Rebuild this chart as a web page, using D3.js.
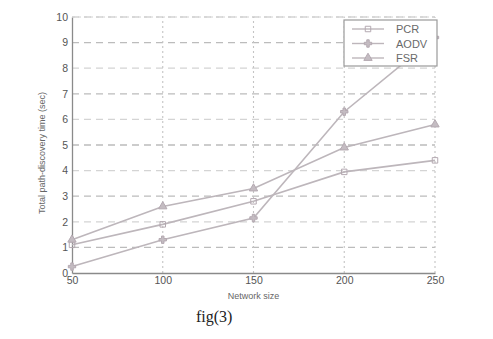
<!DOCTYPE html>
<html>
<head>
<meta charset="utf-8">
<script src="https://cdn.jsdelivr.net/npm/d3@7"></script>
<style>
  body { margin: 0; background: #fff; }
  svg { display: block; }
</style>
</head>
<body>
<div id="chart"></div>
<script>
const networkSize = [50, 100, 150, 200, 250]
const yTicks = [0, 1, 2, 3, 4, 5, 6, 7, 8, 9, 10]
const pcr = [1.1, 1.9, 2.8, 3.95, 4.4]
const aodv = [0.25, 1.3, 2.15, 6.3, 9.2]
const fsr = [1.3, 2.6, 3.3, 4.9, 5.8]
const seriesNames = ['PCR', 'AODV', 'FSR']

const W = 493, H = 339
const m = { left: 72, right: 58, top: 17, bottom: 66 }

const svg = d3.select('#chart').append('svg')
  .attr('width', W)
  .attr('height', H)

const x = d3.scaleLinear().domain([50, 250]).range([m.left, W - m.right])
const y = d3.scaleLinear().domain([0, 10]).range([H - m.bottom, m.top])

const lineColor = '#bdb6bb'
const gridColor = '#c4c4c4'
const axisColor = '#8a8a8a'

// grid
svg.append('g')
  .selectAll('line')
  .data(yTicks.slice(1))
  .join('line')
  .attr('x1', x(50)).attr('x2', x(250))
  .attr('y1', d => y(d)).attr('y2', d => y(d))
  .attr('stroke', d => d % 2 ? '#bcbcbc' : '#d4d4d4')
  .attr('stroke-width', 1.3)
  .attr('stroke-dasharray', '7,5')

svg.append('g')
  .selectAll('line')
  .data(networkSize.slice(1))
  .join('line')
  .attr('x1', d => x(d)).attr('x2', d => x(d))
  .attr('y1', y(0)).attr('y2', y(10))
  .attr('stroke', gridColor)
  .attr('stroke-width', 1.1)
  .attr('stroke-dasharray', '2,3')

// axes
const xAxis = svg.append('g')
  .attr('transform', `translate(0,${y(0)})`)
  .call(d3.axisBottom(x).tickValues(networkSize).tickSize(0).tickPadding(4))
const yAxis = svg.append('g')
  .attr('transform', `translate(${x(50)},0)`)
  .call(d3.axisLeft(y).tickValues(yTicks).tickSize(0).tickPadding(4))

;[xAxis, yAxis].forEach(g => {
  g.select('.domain').attr('stroke', axisColor).attr('stroke-width', 1.3)
  g.selectAll('text')
    .attr('fill', '#555')
    .style('font-family', 'Liberation Sans, Arial, sans-serif')
    .style('font-size', '10.5px')
})

// top line of the box
svg.append('line')
  .attr('x1', x(50)).attr('x2', x(250))
  .attr('y1', y(10)).attr('y2', y(10))
  .attr('stroke', '#d0d0d0')
  .attr('stroke-dasharray', '3,3')

const series = [
  { name: 'PCR', values: pcr, symbol: d3.symbolSquare, size: 30 },
  { name: 'AODV', values: aodv, symbol: d3.symbolCross, size: 30 },
  { name: 'FSR', values: fsr, symbol: d3.symbolTriangle, size: 30 }
]

const line = d3.line()
  .x((d, i) => x(networkSize[i]))
  .y(d => y(d))

series.forEach(s => {
  svg.append('path')
    .datum(s.values)
    .attr('d', line)
    .attr('fill', 'none')
    .attr('stroke', lineColor)
    .attr('stroke-width', 1.6)

  svg.append('g')
    .selectAll('path')
    .data(s.values)
    .join('path')
    .attr('transform', (d, i) => `translate(${x(networkSize[i])},${y(d)})`)
    .attr('d', d3.symbol(s.symbol, s.size))
    .attr('fill', s.name === 'PCR' ? 'none' : '#c4bcc2')
    .attr('stroke', '#b4a9b1')
    .attr('stroke-width', 1)
})

// legend
const lg = svg.append('g').attr('transform', 'translate(344,20)')
lg.append('rect')
  .attr('width', 93).attr('height', 46)
  .attr('fill', '#fff')
  .attr('stroke', '#9a9a9a')
  .attr('stroke-width', 1.2)

series.forEach((s, i) => {
  const yy = 9 + i * 14.5
  lg.append('line')
    .attr('x1', 8).attr('x2', 40)
    .attr('y1', yy).attr('y2', yy)
    .attr('stroke', lineColor)
    .attr('stroke-width', 1.4)
  lg.append('path')
    .attr('transform', `translate(24,${yy})`)
    .attr('d', d3.symbol(s.symbol, s.size))
    .attr('fill', s.name === 'PCR' ? 'none' : '#c4bcc2')
    .attr('stroke', '#b4a9b1')
  lg.append('text')
    .attr('x', 52).attr('y', yy + 4)
    .text(seriesNames[i])
    .attr('fill', '#6a6a6a')
    .style('font-family', 'Liberation Sans, Arial, sans-serif')
    .style('font-size', '11px')
})

// labels
svg.append('text')
  .attr('x', x(150)).attr('y', 299)
  .attr('text-anchor', 'middle')
  .attr('fill', '#666')
  .style('font-family', 'Liberation Sans, Arial, sans-serif')
  .style('font-size', '9px')
  .text('Network size')

svg.append('text')
  .attr('transform', `translate(45,${(y(0) + y(10)) / 2 + 8}) rotate(-90)`)
  .attr('text-anchor', 'middle')
  .attr('fill', '#666')
  .style('font-family', 'Liberation Sans, Arial, sans-serif')
  .style('font-size', '9px')
  .text('Total path-discovery time (sec)')

svg.append('text')
  .attr('x', 196).attr('y', 322)
  .attr('fill', '#222')
  .style('font-family', 'Liberation Serif, Times New Roman, serif')
  .style('font-size', '16px')
  .text('fig(3)')
</script>
</body>
</html>
